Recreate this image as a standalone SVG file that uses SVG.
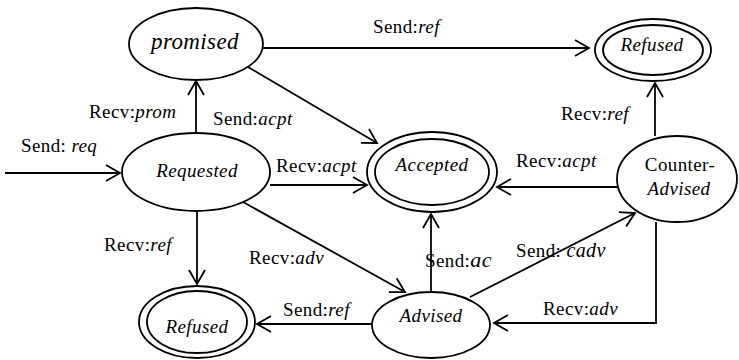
<svg xmlns="http://www.w3.org/2000/svg" width="739" height="360" viewBox="0 0 739 360">
  <style>
    .st { fill: #fff; stroke: #000; stroke-width: 1.8; }
    .ed { fill: none; stroke: #000; stroke-width: 1.8; marker-end: url(#open); }
    text { font-family: "Liberation Serif", "Times New Roman", serif; font-size: 19px; letter-spacing: 0.4px; fill: #000; }
    .nm { font-style: italic; text-anchor: middle; }
    .it { font-style: italic; }
  </style>
  <defs>
    <marker id="open" viewBox="0 0 16 16" refX="15" refY="8" markerWidth="16" markerHeight="16" markerUnits="userSpaceOnUse" orient="auto" overflow="visible">
      <path d="M1,0 L15,8 L1,16" fill="none" stroke="#000" stroke-width="1.8"/>
    </marker>
  </defs>

  <rect width="739" height="360" fill="#fff"/>

  <!-- transitions -->
  <g id="edges">
    <line class="ed" x1="5" y1="173" x2="120" y2="173"/>
    <line class="ed" x1="196" y1="133" x2="196" y2="81"/>
    <line class="ed" x1="248" y1="67" x2="377" y2="143"/>
    <line class="ed" x1="263" y1="48" x2="589" y2="48"/>
    <line class="ed" x1="270" y1="185" x2="367" y2="185"/>
    <line class="ed" x1="243" y1="202" x2="405" y2="292"/>
    <line class="ed" x1="197" y1="211" x2="197" y2="284"/>
    <line class="ed" x1="372" y1="324" x2="257" y2="324"/>
    <line class="ed" x1="431" y1="292" x2="431" y2="214"/>
    <line class="ed" x1="470" y1="297" x2="635" y2="213"/>
    <polyline class="ed" points="656,222 656,323 494,323"/>
    <line class="ed" x1="617" y1="187" x2="497" y2="187"/>
    <line class="ed" x1="655" y1="136" x2="655" y2="83"/>
  </g>

  <!-- transition labels -->
  <g id="labels">
    <text x="21" y="152">Send: <tspan class="it">req</tspan></text>
    <text x="89" y="118">Recv:<tspan class="it">prom</tspan></text>
    <text x="213" y="125">Send:<tspan class="it">acpt</tspan></text>
    <text x="373" y="33">Send:<tspan class="it">ref</tspan></text>
    <text x="276" y="172">Recv:<tspan class="it">acpt</tspan></text>
    <text x="516" y="167">Recv:<tspan class="it">acpt</tspan></text>
    <text x="561" y="120">Recv:<tspan class="it">ref</tspan></text>
    <text x="104" y="251">Recv:<tspan class="it">ref</tspan></text>
    <text x="249" y="264">Recv:<tspan class="it">adv</tspan></text>
    <text x="283" y="316">Send:<tspan class="it">ref</tspan></text>
    <text x="425" y="267">Send:<tspan class="it" style="font-size:22px">ac</tspan></text>
    <text x="516" y="257">Send: <tspan class="it" style="font-size:20px">cadv</tspan></text>
    <text x="543" y="315">Recv:<tspan class="it">adv</tspan></text>
  </g>

  <g id="promised">
    <ellipse class="st" cx="196" cy="44" rx="67" ry="36"/>
    <text class="nm" x="195" y="49" style="font-size:23px">promised</text>
  </g>

  <g id="requested">
    <ellipse class="st" cx="196" cy="172" rx="74" ry="39"/>
    <text class="nm" x="197" y="177">Requested</text>
  </g>

  <g id="accepted">
    <ellipse class="st" cx="432" cy="172" rx="65" ry="40"/>
    <ellipse class="st" cx="432" cy="172" rx="57" ry="33"/>
    <text class="nm" x="432" y="171">Accepted</text>
  </g>

  <g id="refused-top">
    <ellipse class="st" cx="653" cy="50" rx="58" ry="31"/>
    <ellipse class="st" cx="653" cy="50" rx="50" ry="25"/>
    <text class="nm" x="652" y="51">Refused</text>
  </g>

  <g id="counter-advised">
    <ellipse class="st" cx="677" cy="179" rx="60" ry="43"/>
    <text x="680" y="171" style="text-anchor:middle">Counter-</text>
    <text class="nm" x="679" y="195">Advised</text>
  </g>

  <g id="refused-bottom">
    <ellipse class="st" cx="197" cy="322" rx="58" ry="36"/>
    <ellipse class="st" cx="197" cy="322" rx="50" ry="31"/>
    <text class="nm" x="197" y="333">Refused</text>
  </g>

  <g id="advised">
    <ellipse class="st" cx="431" cy="325" rx="59" ry="33"/>
    <text class="nm" x="431" y="322">Advised</text>
  </g>
</svg>
